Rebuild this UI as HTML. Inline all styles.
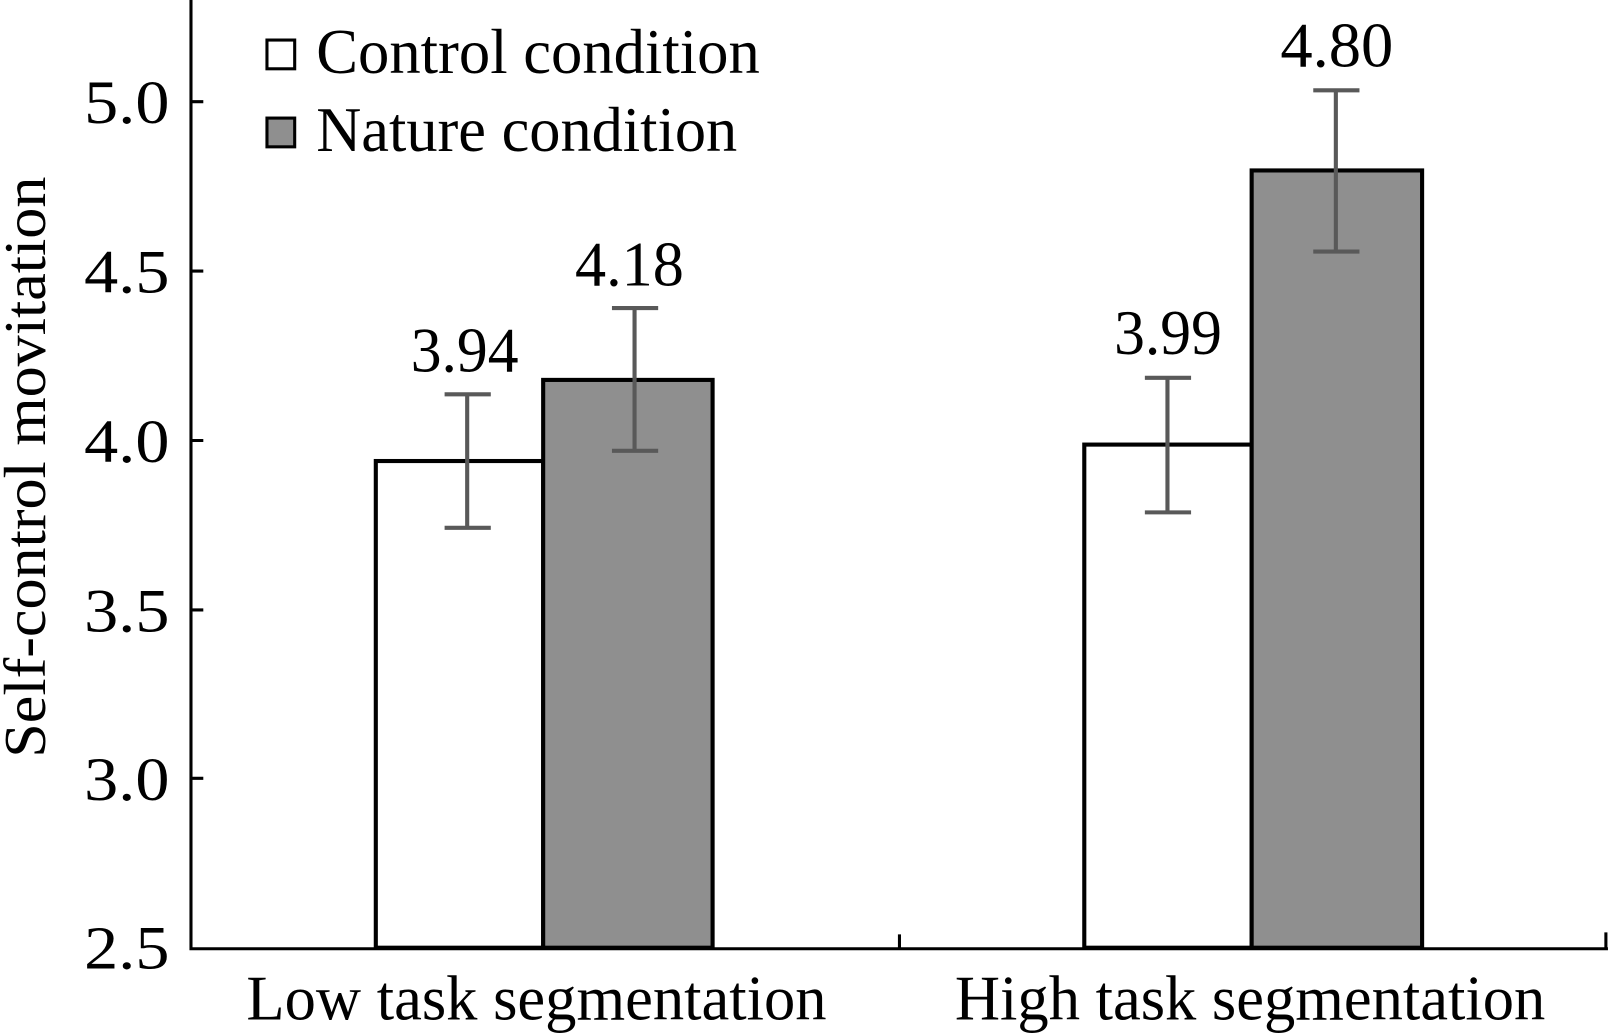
<!DOCTYPE html>
<html><head><meta charset="utf-8"><style>html,body{margin:0;padding:0;background:#fff}svg{display:block}</style></head>
<body>
<svg width="1610" height="1035" viewBox="0 0 1568 1008" preserveAspectRatio="none" xmlns="http://www.w3.org/2000/svg" font-family="'Liberation Serif', serif" fill="#000">
<rect width="1568" height="1008" fill="#fff"/>
<!-- bars -->
<rect x="366" y="449" width="163" height="474" fill="#fff" stroke="#000" stroke-width="4"/>
<rect x="529" y="370" width="165" height="553" fill="#8f8f8f" stroke="#000" stroke-width="4"/>
<rect x="1056" y="433" width="163" height="490" fill="#fff" stroke="#000" stroke-width="4"/>
<rect x="1219" y="166" width="166" height="757" fill="#8f8f8f" stroke="#000" stroke-width="4"/>
<!-- error bars -->
<g stroke="#595959" stroke-width="4" fill="none">
<path d="M455 384V514M433 384H478M433 514H478"/>
<path d="M618 300V439M596 300H641M596 439H641"/>
<path d="M1137 368V499M1115 368H1160M1115 499H1160"/>
<path d="M1301 88V245M1279 88H1324M1279 245H1324"/>
</g>
<!-- axes -->
<g stroke="#000" stroke-width="3" fill="none">
<path d="M186 0V924H1566"/>
<path d="M186 99H198M186 264H198M186 429H198M186 594H198M186 758H198"/>
<path d="M876 924V910M1564 924V908"/>
</g>
<!-- tick labels -->
<g font-size="60" text-anchor="end">
<text x="165" y="120" textLength="83" lengthAdjust="spacingAndGlyphs">5.0</text>
<text x="165" y="285" textLength="83" lengthAdjust="spacingAndGlyphs">4.5</text>
<text x="165" y="450" textLength="83" lengthAdjust="spacingAndGlyphs">4.0</text>
<text x="165" y="615" textLength="83" lengthAdjust="spacingAndGlyphs">3.5</text>
<text x="165" y="779" textLength="83" lengthAdjust="spacingAndGlyphs">3.0</text>
<text x="165" y="943" textLength="83" lengthAdjust="spacingAndGlyphs">2.5</text>
</g>
<!-- value labels -->
<g font-size="62">
<text x="400" y="362" textLength="105" lengthAdjust="spacingAndGlyphs">3.94</text>
<text x="560" y="278" textLength="106" lengthAdjust="spacingAndGlyphs">4.18</text>
<text x="1085" y="345" textLength="105" lengthAdjust="spacingAndGlyphs">3.99</text>
<text x="1247" y="65" textLength="110" lengthAdjust="spacingAndGlyphs">4.80</text>
</g>
<!-- legend -->
<rect x="260" y="39" width="27" height="28" fill="#fff" stroke="#000" stroke-width="3"/>
<rect x="260" y="115" width="27" height="28" fill="#8f8f8f" stroke="#000" stroke-width="3"/>
<g font-size="62">
<text x="308" y="71" textLength="432" lengthAdjust="spacingAndGlyphs">Control condition</text>
<text x="308" y="147" textLength="410" lengthAdjust="spacingAndGlyphs">Nature condition</text>
</g>
<!-- x labels -->
<g font-size="62">
<text x="240" y="993" textLength="565" lengthAdjust="spacingAndGlyphs">Low task segmentation</text>
<text x="930" y="993" textLength="575" lengthAdjust="spacingAndGlyphs">High task segmentation</text>
</g>
<!-- y label -->
<text transform="translate(44,738) rotate(-90)" font-size="58" textLength="566" lengthAdjust="spacingAndGlyphs">Self-control movitation</text>
</svg>
</body></html>
